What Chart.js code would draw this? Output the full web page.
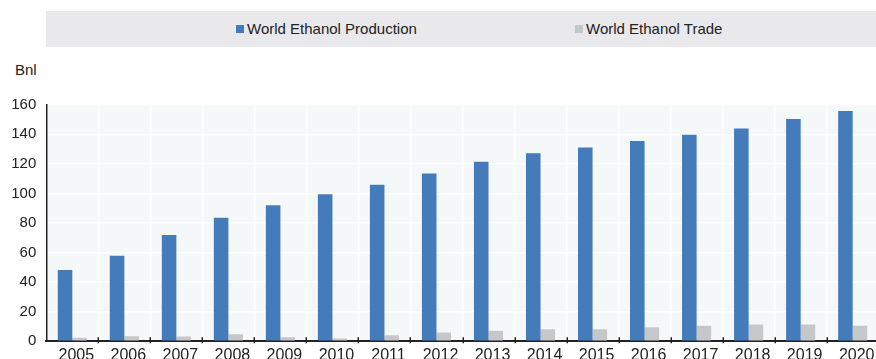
<!DOCTYPE html>
<html>
<head>
<meta charset="utf-8">
<script src="https://cdn.jsdelivr.net/npm/chart.js@4/dist/chart.umd.min.js"></script>
<style>
  html, body { margin: 0; padding: 0; background: #ffffff; overflow: hidden; width: 876px; height: 359px; }
  body { position: relative; font-family: Arial, "Liberation Sans", sans-serif; color: #222; }
  #wrap { position: absolute; left: 0; top: 0; width: 880px; height: 372px; }
  #legend { position: absolute; left: 46px; top: 11px; width: 830px; height: 36px; background: #e9e9eb; }
  .item { position: absolute; top: 10px; height: 15px; font-size: 15px; line-height: 15px; white-space: nowrap; color: #222; }
  .swatch { position: absolute; top: 4px; left: 0; width: 8px; height: 8px; }
  .item span.txt { position: absolute; left: 11px; top: 0; }
  #unit { position: absolute; left: 15px; top: 62px; font-size: 15px; line-height: 15px; color: #222; }
</style>
</head>
<body>
<div id="legend"></div>
<div id="unit">Bnl</div>
<div id="wrap"><canvas id="chart"></canvas></div>
<script>
// Years on the category axis
const years = ['2005','2006','2007','2008','2009','2010','2011','2012','2013','2014','2015','2016','2017','2018','2019','2020'];

// Series names
const seriesNames = ['World Ethanol Production', 'World Ethanol Trade'];

// Billion litres
const production = [48.1, 57.8, 71.9, 83.6, 92.0, 99.4, 105.8, 113.4, 121.4, 127.2, 131.1, 135.4, 139.7, 143.9, 150.3, 155.7];
const trade      = [2.4, 3.4, 3.2, 4.7, 2.7, 1.9, 4.1, 5.9, 7.0, 8.1, 8.1, 9.5, 10.4, 11.3, 11.3, 10.5];

// Value axis ticks
const yTicks = [0, 20, 40, 60, 80, 100, 120, 140, 160];

const colors = ['#447bbb', '#c6c7c9'];

// Legend strip above the plot
const legendPos = [236, 575];
const legendEl = document.getElementById('legend');
seriesNames.forEach((name, i) => {
  const item = document.createElement('div');
  item.className = 'item';
  item.style.left = (legendPos[i] - 46) + 'px';
  const sw = document.createElement('div');
  sw.className = 'swatch';
  sw.style.background = colors[i];
  const t = document.createElement('span');
  t.className = 'txt';
  t.textContent = name;
  item.appendChild(sw);
  item.appendChild(t);
  legendEl.appendChild(item);
});

// Plot background and small tick marks crossing the category axis
const plotDecor = {
  id: 'plotDecor',
  beforeDraw(chart) {
    const { ctx, chartArea: a } = chart;
    ctx.save();
    ctx.fillStyle = '#f4f8f8';
    ctx.fillRect(a.left, a.top, a.right - a.left, a.bottom - a.top);
    ctx.restore();
  },
  afterDraw(chart) {
    const { ctx, chartArea: a } = chart;
    const xs = chart.scales.x;
    const step = (a.right - a.left) / years.length;
    ctx.save();
    ctx.strokeStyle = '#222';
    ctx.lineWidth = 1.5;
    for (let i = 1; i < years.length; i++) {
      const x = Math.round(xs.getPixelForValue(i) - step / 2) + 0.25;
      ctx.beginPath();
      ctx.moveTo(x, a.bottom - 4);
      ctx.lineTo(x, a.bottom + 2);
      ctx.stroke();
    }
    ctx.restore();
  }
};

new Chart(document.getElementById('chart'), {
  type: 'bar',
  data: {
    labels: years,
    datasets: [
      { label: seriesNames[0], data: production, backgroundColor: colors[0], borderWidth: 0 },
      { label: seriesNames[1], data: trade, backgroundColor: colors[1], borderWidth: 0 }
    ]
  },
  options: {
    responsive: true,
    maintainAspectRatio: false,
    animation: false,
    layout: { padding: { top: 104.7, right: 1.3, left: 0, bottom: 0 } },
    datasets: { bar: { barPercentage: 1.0, categoryPercentage: 0.56 } },
    plugins: { legend: { display: false }, tooltip: { enabled: false } },
    scales: {
      x: {
        grid: { color: '#ffffff', lineWidth: 1.5, drawTicks: false, offset: true },
        border: { color: '#222', width: 2 },
        ticks: { color: '#222', font: { family: 'Arial, "Liberation Sans", sans-serif', size: 16 }, padding: 5, labelOffset: 4, maxRotation: 0, autoSkip: false },
        afterFit(s) { s.height = 372 - 341.2; }
      },
      y: {
        min: 0, max: 160,
        afterBuildTicks(s) { s.ticks = yTicks.map(v => ({ value: v })); },
        grid: { color: '#ffffff', lineWidth: 1.5, drawTicks: false },
        border: { color: '#222', width: 1.5 },
        ticks: { color: '#222', font: { family: 'Arial, "Liberation Sans", sans-serif', size: 15 }, padding: 10 },
        afterFit(s) { s.width = 46.3; }
      }
    }
  },
  plugins: [plotDecor]
});
</script>
</body>
</html>
